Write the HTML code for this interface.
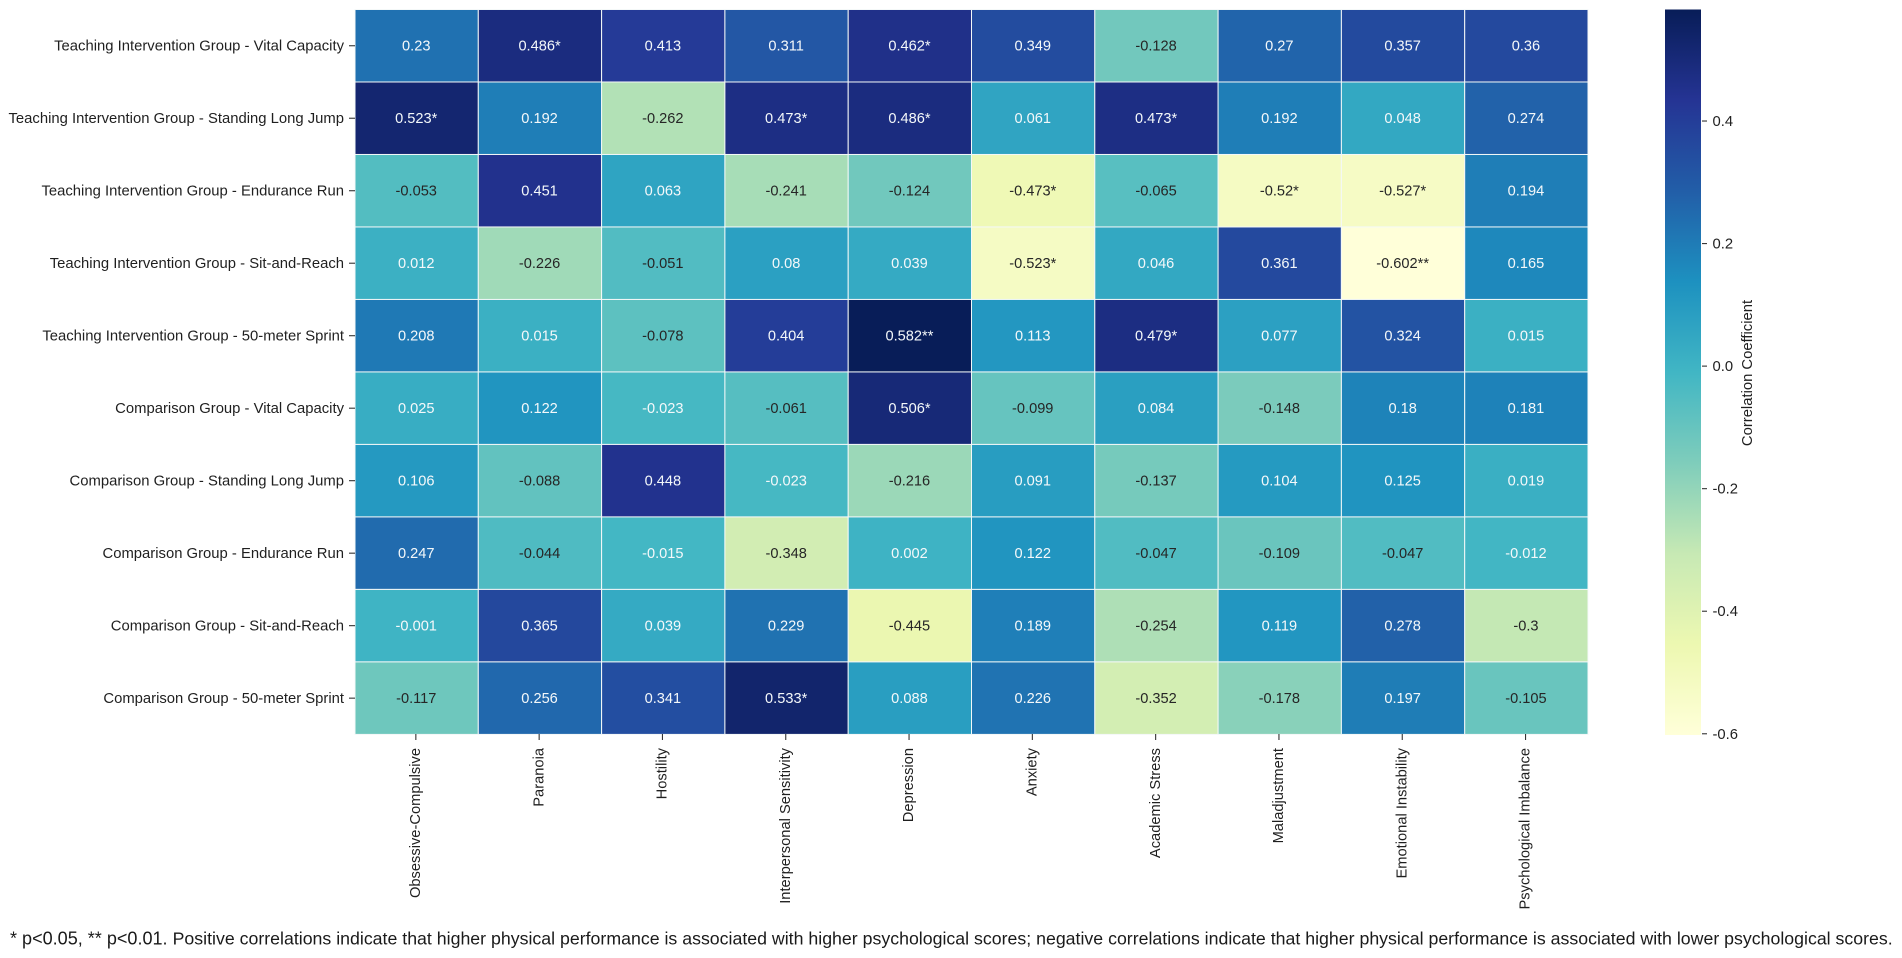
<!DOCTYPE html>
<html lang="en">
<head>
<meta charset="utf-8">
<title>Correlation heatmap</title>
<style>
html,body{margin:0;padding:0;background:#fff;width:1902px;height:958px;overflow:hidden}
svg{display:block;font-family:"Liberation Sans",Arial,sans-serif;filter:blur(0.3px)}
</style>
</head>
<body>
<svg id="chart" width="1902" height="958" viewBox="0 0 1902 958" xmlns="http://www.w3.org/2000/svg">
  <defs>
    <linearGradient id="cbar-gradient" x1="0" y1="1" x2="0" y2="0"></linearGradient>
  </defs>
  <g id="cells"></g>
  <g id="annots"></g>
  <g id="yaxis"></g>
  <g id="xaxis"></g>
  <g id="cbar"></g>
  <text x="10" y="944.6" font-size="18.06" fill="#1a1a1a">* p&lt;0.05, ** p&lt;0.01. <tspan x="172.6" font-size="17.74">Positive correlations indicate that higher physical performance is associated with higher psychological scores; negative correlations indicate that higher physical performance is associated with lower psychological scores.</tspan></text>
</svg>
<script>
const rowLabels = [
  "Teaching Intervention Group - Vital Capacity",
  "Teaching Intervention Group - Standing Long Jump",
  "Teaching Intervention Group - Endurance Run",
  "Teaching Intervention Group - Sit-and-Reach",
  "Teaching Intervention Group - 50-meter Sprint",
  "Comparison Group - Vital Capacity",
  "Comparison Group - Standing Long Jump",
  "Comparison Group - Endurance Run",
  "Comparison Group - Sit-and-Reach",
  "Comparison Group - 50-meter Sprint"
];
const colLabels = [
  "Obsessive-Compulsive","Paranoia","Hostility","Interpersonal Sensitivity","Depression",
  "Anxiety","Academic Stress","Maladjustment","Emotional Instability","Psychological Imbalance"
];
const values = [
  [0.23,0.486,0.413,0.311,0.462,0.349,-0.128,0.27,0.357,0.36],
  [0.523,0.192,-0.262,0.473,0.486,0.061,0.473,0.192,0.048,0.274],
  [-0.053,0.451,0.063,-0.241,-0.124,-0.473,-0.065,-0.52,-0.527,0.194],
  [0.012,-0.226,-0.051,0.08,0.039,-0.523,0.046,0.361,-0.602,0.165],
  [0.208,0.015,-0.078,0.404,0.582,0.113,0.479,0.077,0.324,0.015],
  [0.025,0.122,-0.023,-0.061,0.506,-0.099,0.084,-0.148,0.18,0.181],
  [0.106,-0.088,0.448,-0.023,-0.216,0.091,-0.137,0.104,0.125,0.019],
  [0.247,-0.044,-0.015,-0.348,0.002,0.122,-0.047,-0.109,-0.047,-0.012],
  [-0.001,0.365,0.039,0.229,-0.445,0.189,-0.254,0.119,0.278,-0.3],
  [-0.117,0.256,0.341,0.533,0.088,0.226,-0.352,-0.178,0.197,-0.105]
];
const stars = [
  ["","*","","","*","","","","",""],
  ["*","","","*","*","","*","","",""],
  ["","","","","","*","","*","*",""],
  ["","","","","","*","","","**",""],
  ["","","","","**","","*","","",""],
  ["","","","","*","","","","",""],
  ["","","","","","","","","",""],
  ["","","","","","","","","",""],
  ["","","","","","","","","",""],
  ["","","","*","","","","","",""]
];
const colorbarTicks = [-0.6,-0.4,-0.2,0,0.2,0.4];
const colorbarTitle = "Correlation Coefficient";
const paletteStops = ["#ffffd9","#edf8b1","#c7e9b4","#7fcdbb","#41b6c4","#1d91c0","#225ea8","#253494","#081d58"];

const NS = "http://www.w3.org/2000/svg";
const plot = {left:355, right:1588, top:9.5, bottom:734.4};
const bar = {left:1665, right:1701, top:9.5, bottom:735};

const flat = values.reduce((a,r)=>a.concat(r),[]);
const vmin = Math.min.apply(null,flat);
const vmax = Math.max.apply(null,flat);

function hexToRgb(h){return [1,3,5].map(i=>parseInt(h.substr(i,2),16));}
function colorAt(t){
  t = Math.max(0,Math.min(1,t));
  const p = t*(paletteStops.length-1);
  const i = Math.min(Math.floor(p),paletteStops.length-2);
  const f = p-i;
  const a = hexToRgb(paletteStops[i]), b = hexToRgb(paletteStops[i+1]);
  return a.map((c,k)=>Math.round(c+(b[k]-c)*f));
}
function norm(v){return (v-vmin)/(vmax-vmin);}
function rgbStr(c){return "rgb("+c.join(",")+")";}
function luminance(c){
  const l = c.map(x=>{x/=255;return x<=0.03928?x/12.92:Math.pow((x+0.055)/1.055,2.4);});
  return 0.2126*l[0]+0.7152*l[1]+0.0722*l[2];
}
function xBand(j){return plot.left+(plot.right-plot.left)*j/colLabels.length;}
function yBand(i){return plot.top+(plot.bottom-plot.top)*i/rowLabels.length;}
function barY(v){return bar.bottom-(v-vmin)/(vmax-vmin)*(bar.bottom-bar.top);}
function make(tag,attrs,parent,text){
  const el = document.createElementNS(NS,tag);
  for(const k in attrs){el.setAttribute(k,attrs[k]);}
  if(text!==undefined){el.textContent=text;}
  parent.appendChild(el);
  return el;
}

const cellsG = document.getElementById("cells");
const annotsG = document.getElementById("annots");
const yG = document.getElementById("yaxis");
const xG = document.getElementById("xaxis");
const cbarG = document.getElementById("cbar");

values.forEach((row,i)=>{
  row.forEach((v,j)=>{
    const c = colorAt(norm(v));
    const rect = make("rect",{x:xBand(j),y:yBand(i),width:xBand(j+1)-xBand(j),height:yBand(i+1)-yBand(i),fill:rgbStr(c),stroke:"#f4f8f8","stroke-width":1},cellsG);
    
    
    const t = make("text",{x:(xBand(j)+xBand(j+1))/2-0.4,y:(yBand(i)+yBand(i+1))/2+4.6,"text-anchor":"middle","font-size":14.6,fill:luminance(c)>0.408?"#262626":"#f4f8fa"},annotsG,String(v)+stars[i][j]);
    
    
  });
});

rowLabels.forEach((label,i)=>{
  const y = (yBand(i)+yBand(i+1))/2;
  const tick = make("line",{x1:349,x2:355,y1:y,y2:y,stroke:"#333","stroke-width":1.1},yG);
  
  
  const t = make("text",{x:344,y:y+4.7,"text-anchor":"end","font-size":14.83,fill:"#1f1f1f"},yG,label);
  
  
});

colLabels.forEach((label,j)=>{
  const x = (xBand(j)+xBand(j+1))/2;
  const tick = make("line",{x1:x-0.8,x2:x-0.8,y1:734,y2:740,stroke:"#333","stroke-width":1.1},xG);
  
  
  const t = make("text",{transform:"translate("+(x+3.3)+",748) rotate(-90)","text-anchor":"end","font-size":14.68,fill:"#1f1f1f"},xG,label);
  
  
});

const grad = document.getElementById("cbar-gradient");
paletteStops.forEach((col,k)=>{
  make("stop",{offset:k/(paletteStops.length-1),"stop-color":col},grad);
});
const barRect = make("rect",{x:bar.left,y:bar.top,width:bar.right-bar.left,height:bar.bottom-bar.top,fill:"url(#cbar-gradient)"},cbarG);


colorbarTicks.forEach(v=>{
  const y = barY(v);
  const tick = make("line",{x1:1702,x2:1707,y1:y,y2:y,stroke:"#333","stroke-width":1.1},cbarG);
  
  
  const t = make("text",{x:1712.5,y:y+5,"font-size":14.8,fill:"#1f1f1f"},cbarG,v.toFixed(1));
  
  
});
const cbTitle = make("text",{transform:"translate(1752,373) rotate(-90)","text-anchor":"middle","font-size":14.8,fill:"#1f1f1f"},cbarG,colorbarTitle);


</script>
</body>
</html>
